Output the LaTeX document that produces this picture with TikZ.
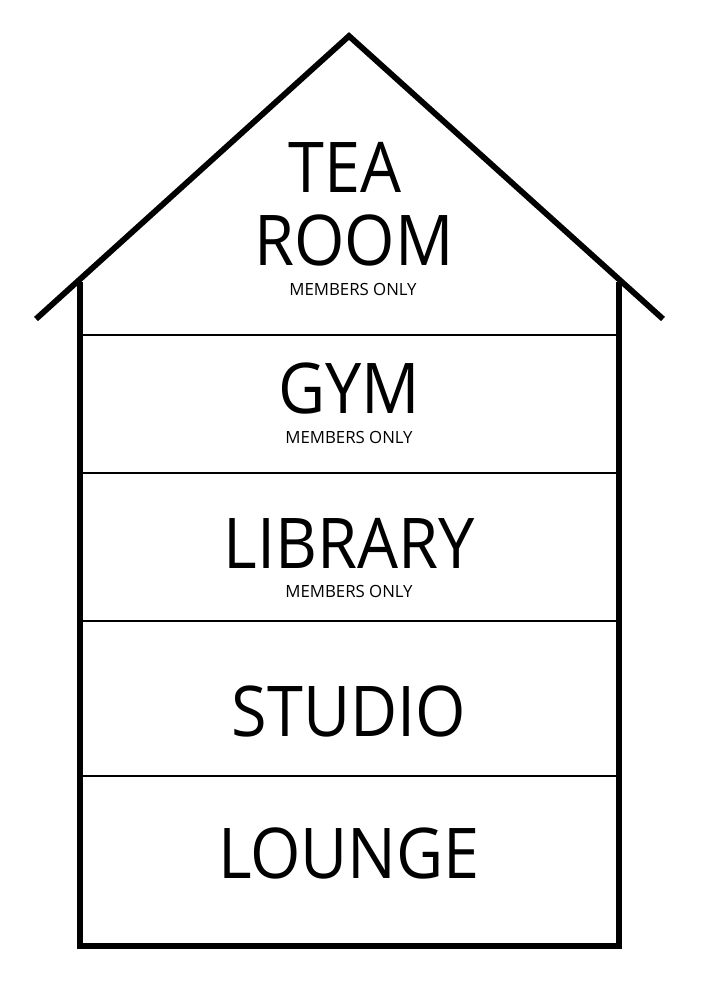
\documentclass[tikz,border=0pt]{standalone}
\usepackage{fontspec}
\setmainfont{Open Sans}
\newfontfamily\housebigfont[FakeStretch=0.925]{Open Sans}
\begin{document}
\begin{tikzpicture}[x=1pt,y=-1pt,
  thick line/.style={line width=5.8pt,line join=miter,black},
  floor line/.style={line width=1.4pt,black},
  bigtxt/.style={anchor=base,inner sep=0pt,font=\housebigfont\fontsize{70}{70}\selectfont},
  smalltxt/.style={anchor=base,inner sep=0pt,font=\fontsize{16.8}{16.8}\selectfont}]
\useasboundingbox (0,0) rectangle (709,992);
\coordinate (roofL) at (36,319);
\coordinate (apex) at (349,36);
\coordinate (roofR) at (663,319);
\coordinate (wallLT) at (80,282);
\coordinate (wallLB) at (80,946);
\coordinate (wallRB) at (619,946);
\coordinate (wallRT) at (619,282);
\draw[thick line] (roofL) -- (apex) -- (roofR);
\draw[thick line] (wallLT) -- (wallLB) -- (wallRB) -- (wallRT);
\foreach \y/\n in {335/a,473/b,621/c,776/d}{
  \coordinate (f\n L) at (80,\y);
  \coordinate (f\n R) at (619,\y);
  \draw[floor line] (f\n L) -- (f\n R);
}
\node[bigtxt] (tea) at (345,193) {TEA};
\node[bigtxt] (room) at (354,265) {ROOM};
\node[smalltxt] (m1) at (353,295) {MEMBERS ONLY};
\node[bigtxt] (gym) at (349,413) {GYM};
\node[smalltxt] (m2) at (349,443) {MEMBERS ONLY};
\node[bigtxt] (lib) at (349,568) {LIBRARY};
\node[smalltxt] (m3) at (349,597) {MEMBERS ONLY};
\node[bigtxt] (studio) at (349,736) {STUDIO};
\node[bigtxt] (lounge) at (349,878) {LOUNGE};
\end{tikzpicture}
\end{document}
